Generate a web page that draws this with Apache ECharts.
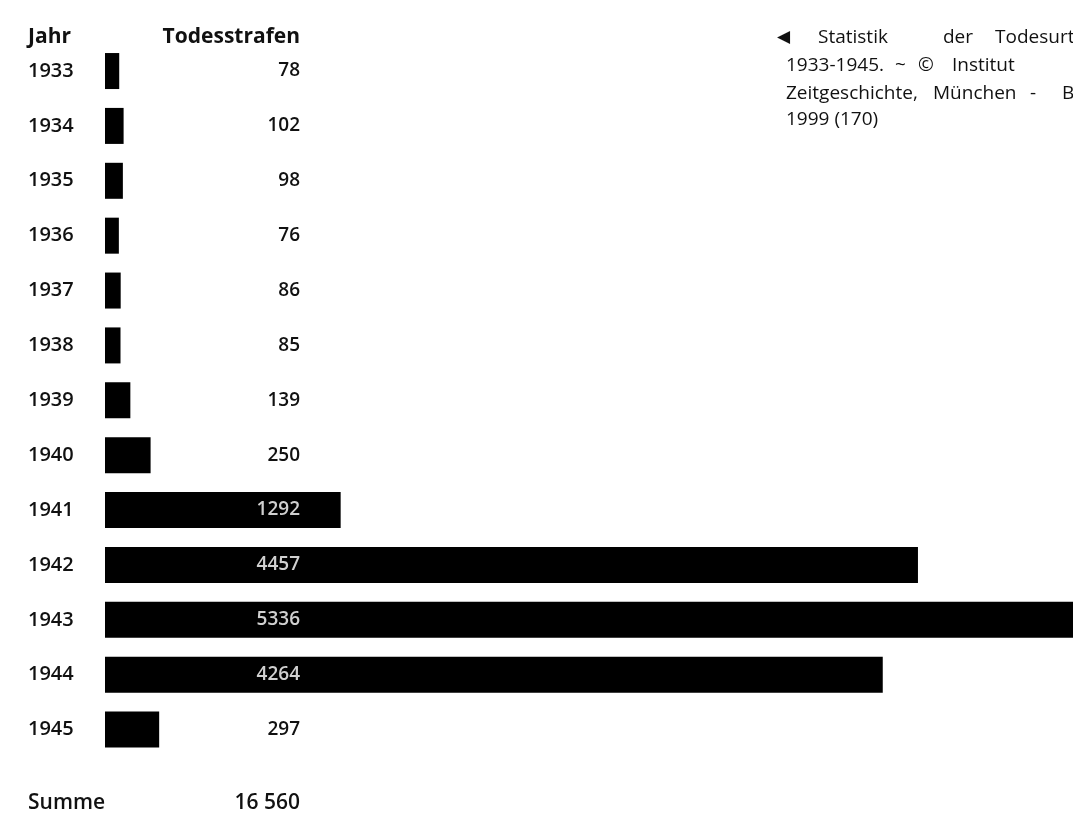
<!DOCTYPE html>
<html>
<head>
<meta charset="utf-8">
<script src="https://cdn.jsdelivr.net/npm/echarts@6/dist/echarts.min.js"></script>
<style>
  html, body { margin: 0; padding: 0; background: #fff; }
  #chart { width: 1073px; height: 815px; }
</style>
</head>
<body>
<div id="chart"></div>
<script>
// Todesstrafen pro Jahr
const years = ['1933', '1934', '1935', '1936', '1937', '1938', '1939',
  '1940', '1941', '1942', '1943', '1944', '1945'];
const sentences = [78, 102, 98, 76, 86, 85, 139, 250, 1292, 4457, 5336, 4264, 297];
const totalLabel = '16 560';
const captionLines = [
  ['Statistik', 'der', 'Todesurteile'],
  ['1933-1945.', '~', '©', 'Institut', 'für'],
  ['Zeitgeschichte,', 'München', '-', 'Berlin'],
  ['1999 (170)']
];

const font = '"Open Sans", "Noto Sans", sans-serif';
const chart = echarts.init(document.getElementById('chart'));

// values sit right-aligned at a fixed column, light on dark bars
const barData = sentences.map(v => ({
  value: v,
  label: { color: v > 1000 ? '#d0d0d0' : '#111' }
}));

// caption words, spread out like the justified print (runs off the page)
const wordX = [
  [818, 943, 995],
  [786, 895, 918, 952, 1080],
  [786, 933, 1030, 1062],
  [786]
];
const lineTop = [28, 56, 84, 110];
const captionEls = [];
captionLines.forEach((line, i) => {
  line.forEach((w, j) => {
    captionEls.push({
      type: 'text', left: wordX[i][j], top: lineTop[i],
      style: { text: w, font: '19px ' + font, fill: '#111' }
    });
  });
});

const option = {
  backgroundColor: '#fff',
  animation: false,
  grid: { left: 105, top: 43.6, width: 968, height: 713.4, outerBoundsMode: 'none' },
  xAxis: { type: 'value', min: 0, max: 5307, show: false },
  yAxis: {
    type: 'category',
    data: years,
    inverse: true,
    axisLine: { show: false },
    axisTick: { show: false },
    axisLabel: {
      align: 'left', margin: 77,
      fontFamily: font, fontSize: 20, fontWeight: 600, color: '#111'
    }
  },
  series: [{
    type: 'bar',
    data: barData,
    barWidth: 36,
    clip: true,
    itemStyle: { color: '#000' },
    label: {
      show: true,
      position: [195, '50%'],
      align: 'right',
      verticalAlign: 'middle',
      fontFamily: font,
      fontWeight: 600,
      fontSize: 19
    }
  }],
  graphic: [
    { type: 'text', left: 28, top: 27,
      style: { text: 'Jahr', font: 'bold 21px ' + font, fill: '#111' } },
    { type: 'text', right: 773, top: 27,
      style: { text: 'Todesstrafen', font: 'bold 21px ' + font, fill: '#111' } },
    { type: 'text', left: 28, top: 793,
      style: { text: 'Summe', font: '600 21px ' + font, fill: '#111' } },
    { type: 'text', right: 773, top: 793,
      style: { text: totalLabel, font: '600 21px ' + font, fill: '#111' } },
    { type: 'text', left: 777, top: 29,
      style: { text: '◀', font: '17px "DejaVu Sans"', fill: '#111' } }
  ].concat(captionEls)
};

chart.setOption(option);
</script>
</body>
</html>
